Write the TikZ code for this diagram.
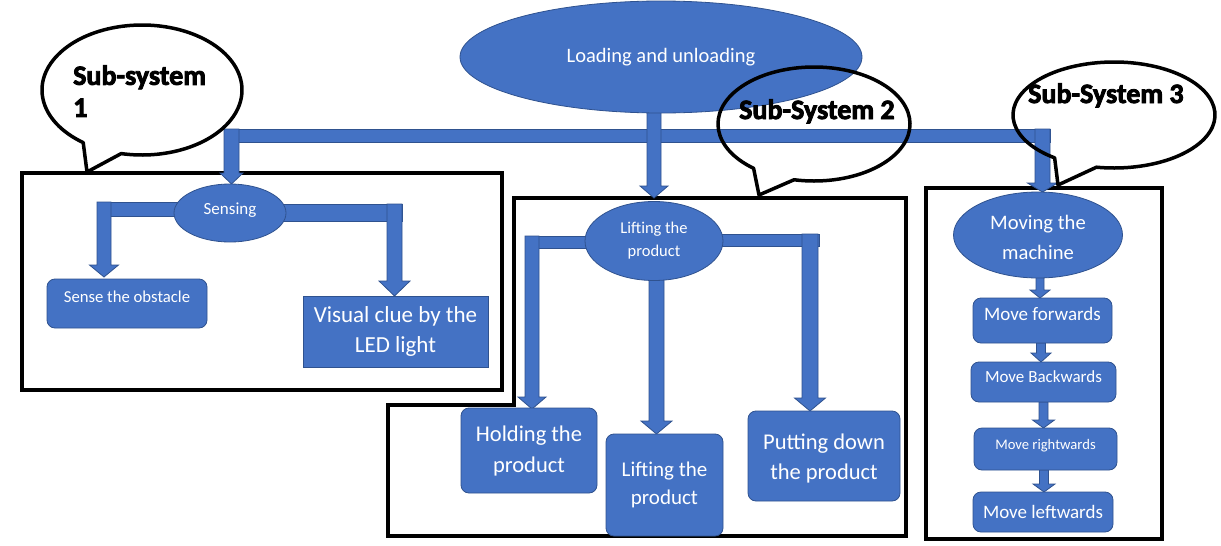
\documentclass[tikz,border=0pt]{standalone}
\usepackage{fontspec}
\setmainfont{Carlito}[BoldFeatures={FakeBold=3}]
\usetikzlibrary{shapes.geometric,calc}
\definecolor{blu}{HTML}{4472C4}
\definecolor{bluedge}{HTML}{2F528F}
\newcommand\blockdown[6]{%
 \filldraw[arrowbody] ({#1-#5},#2) -- ({#1+#5},#2) -- ({#1+#5},#3) -- ({#1+#6},#3) -- (#1,#4) -- ({#1-#6},#3) -- ({#1-#5},#3) -- cycle;}
\newcommand\uptext[2]{\raisebox{#1}[\height][\depth]{\begin{tabular}{@{}c@{}}#2\end{tabular}}}
\begin{document}
\begin{tikzpicture}[x=1pt,y=-1pt,
 arrowbody/.style={fill=blu,draw=bluedge,line width=0.8pt},
 bluenode/.style={fill=blu,draw=bluedge,line width=0.8pt,text=white,inner sep=0pt,align=center},
 oval/.style={bluenode,ellipse},
 rbox/.style={bluenode,rectangle,rounded corners=8pt},
 sbox/.style={bluenode,rectangle},
 frame/.style={draw=black,line width=4pt},
 bubble/.style={draw=black,line width=3.5pt,line join=round},
 bubtext/.style={font=\fontsize{28}{32}\selectfont\bfseries,inner sep=0pt,align=left}
]
\useasboundingbox (0,0) rectangle (1221,546);
\fill[white] (0,0) rectangle (1221,546);

% frames
\draw[frame] (22,173) rectangle (502,390);
\draw[frame] (514,198) -- (906,198) -- (906,536) -- (388,536) -- (388,405) -- (514,405) -- cycle;
\draw[frame] (926,188) rectangle (1162,539);

% main bar and arrows
\filldraw[arrowbody] (224,129) rectangle (1050,142);
\blockdown{231.5}{129}{173}{184}{7.5}{11.5}
\blockdown{654}{100}{186}{198}{7}{14}
\blockdown{1042.5}{129}{183}{192}{7.5}{15}

% sub-system 1 branches
\filldraw[arrowbody] (97,202) rectangle (190,216);
\blockdown{104}{202}{265}{277}{7}{14.5}
\filldraw[arrowbody] (272,204) rectangle (402,221);
\blockdown{394.5}{204}{281}{296}{7.5}{15.5}

% sub-system 2 branches
\filldraw[arrowbody] (525,236) rectangle (592,248);
\blockdown{532}{236}{397}{409}{7}{14}
\blockdown{656.5}{270}{421}{434}{7.5}{15.5}
\filldraw[arrowbody] (716,234) rectangle (819,246);
\blockdown{810}{234}{398}{411}{8}{15.5}

% sub-system 3 arrows
\blockdown{1040}{270}{290}{298}{4}{10}
\blockdown{1041}{343}{353}{362}{4.5}{10}
\blockdown{1043.5}{402}{420}{428}{4.5}{11}
\blockdown{1044}{470}{484}{492}{4.5}{11}

% nodes
\node[oval,minimum width=402,minimum height=112,font=\fontsize{20.5}{24}\selectfont] (load) at (661,57) {Loading and unloading};

\node[oval,minimum width=112,minimum height=58,font=\fontsize{17}{20}\selectfont] (sense) at (230,213) {\uptext{3pt}{Sensing}};
\node[rbox,minimum width=160,minimum height=49,font=\fontsize{16.7}{20}\selectfont] (obst) at (127,303.5) {\uptext{5pt}{Sense the obstacle}};
\node[sbox,minimum width=185,minimum height=71,font=\fontsize{23}{30}\selectfont] (visual) at (395.5,331.5) {Visual clue by the\\LED light};

\node[oval,minimum width=138,minimum height=79,font=\fontsize{16.5}{23}\selectfont] (lift) at (654,241) {Lifting the\\product};
\node[rbox,minimum width=136,minimum height=85,font=\fontsize{22.5}{31}\selectfont] (hold) at (529,450.5) {Holding the\\product};
\node[rbox,minimum width=117,minimum height=102,font=\fontsize{21}{28}\selectfont] (lift2) at (664.5,485) {Lifting the\\product};
\node[rbox,minimum width=152,minimum height=90,font=\fontsize{22.5}{30}\selectfont] (put) at (824,456) {\uptext{-2pt}{Putting down\\the product}};

\node[oval,minimum width=169,minimum height=86,font=\fontsize{20.6}{29.5}\selectfont] (move) at (1038,235) {\uptext{-3.5pt}{Moving the\\machine}};
\node[rbox,minimum width=139,minimum height=45,font=\fontsize{19}{22}\selectfont] (fwd) at (1042.5,320.5) {\uptext{4pt}{Move forwards}};
\node[rbox,minimum width=145,minimum height=40,font=\fontsize{17}{20}\selectfont] (back) at (1043.5,382) {\uptext{4pt}{Move Backwards}};
\node[rbox,minimum width=143,minimum height=42,font=\fontsize{14.6}{17}\selectfont] (right) at (1045.5,449) {\uptext{3pt}{Move rightwards}};
\node[rbox,minimum width=140,minimum height=40,font=\fontsize{19}{22}\selectfont] (left) at (1043,512) {Move leftwards};

% speech bubbles
\draw[bubble] ($(142,90)+(126:100 and 65)$) arc[start angle=126,end angle=462,x radius=100,y radius=65] -- (87,172) -- cycle;
\draw[bubble] ($(814,124)+(129:96 and 57)$) arc[start angle=129,end angle=462,x radius=96,y radius=57] -- (759,195) -- cycle;
\draw[bubble] ($(1114,115)+(126:101 and 53)$) arc[start angle=126,end angle=460,x radius=101,y radius=53] -- (1058,185) -- cycle;

\node[bubtext,anchor=north west] (t1) at (73,65) {Sub-system\\1};
\node[bubtext,anchor=base west] (t2) at (739,119) {Sub-System 2};
\node[bubtext,anchor=base west] (t3) at (1028,103) {Sub-System 3};
\end{tikzpicture}
\end{document}
